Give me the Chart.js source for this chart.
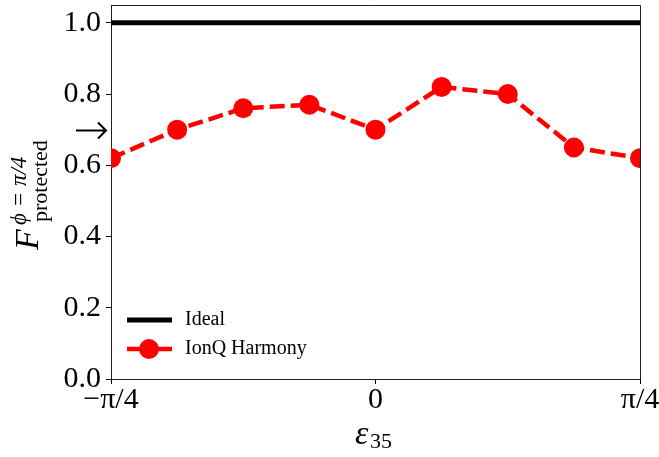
<!DOCTYPE html>
<html>
<head>
<meta charset="utf-8">
<script src="https://cdn.jsdelivr.net/npm/chart.js@4.4.0/dist/chart.umd.min.js"></script>
<style>
html, body { margin: 0; padding: 0; background: #fff; }
#wrap { width: 659px; height: 457px; }
</style>
</head>
<body>
<div id="wrap"><canvas id="chart" width="659" height="457"></canvas></div>
<script>
// epsilon_35 in steps of pi/16
const epsSteps = [-4, -3, -2, -1, 0, 1, 2, 3, 4];
const ionqFidelity = [0.62, 0.70, 0.76, 0.77, 0.70, 0.82, 0.80, 0.65, 0.62];
const idealSteps = [-4, 4];
const idealFidelity = [1.0, 1.0];
const xTickSteps = [-4, 0, 4];
const xTickLabels = ['−π/4', '0', 'π/4'];
const yTicks = [0.0, 0.2, 0.4, 0.6, 0.8, 1.0];
const arrowValue = 0.70;

const SERIF = "'Liberation Serif', 'Times New Roman', serif";

// 범례, 축 제목, 화살표, 위/오른쪽 테두리
const extras = {
    id: 'extras',
    afterDraw(chart) {
        const ctx = chart.ctx;
        const area = chart.chartArea;
        const y = chart.scales.y;

        ctx.save();
        // top + right spines
        ctx.strokeStyle = '#222';
        ctx.lineWidth = 1;
        ctx.beginPath();
        ctx.moveTo(area.left, area.top + 0.5);
        ctx.lineTo(area.right + 0.5, area.top + 0.5);
        ctx.lineTo(area.right + 0.5, area.bottom);
        ctx.stroke();

        // legend
        ctx.lineCap = 'butt';
        ctx.strokeStyle = '#000';
        ctx.lineWidth = 5;
        ctx.beginPath();
        ctx.moveTo(127, 320);
        ctx.lineTo(172, 320);
        ctx.stroke();
        ctx.strokeStyle = '#ff0000';
        ctx.lineWidth = 4.5;
        ctx.beginPath();
        ctx.moveTo(127, 349);
        ctx.lineTo(172, 349);
        ctx.stroke();
        ctx.fillStyle = '#ff0000';
        ctx.beginPath();
        ctx.arc(149, 349, 10, 0, Math.PI * 2);
        ctx.fill();

        ctx.fillStyle = '#000';
        ctx.font = '20px ' + SERIF;
        ctx.textBaseline = 'middle';
        ctx.textAlign = 'left';
        ctx.fillText('Ideal', 185, 320);
        ctx.fillText('IonQ Harmony', 185, 349);

        // arrow
        const ay = Math.round(y.getPixelForValue(arrowValue)) + 0.5;
        ctx.strokeStyle = '#000';
        ctx.lineWidth = 2;
        ctx.beginPath();
        ctx.moveTo(76, ay);
        ctx.lineTo(106, ay);
        ctx.moveTo(98, ay - 8);
        ctx.lineTo(106, ay);
        ctx.lineTo(98, ay + 8);
        ctx.stroke();

        // x title
        ctx.textAlign = 'left';
        ctx.textBaseline = 'alphabetic';
        ctx.font = 'italic 34px ' + SERIF;
        ctx.fillText('ε', 355, 444);
        ctx.font = '22px ' + SERIF;
        ctx.fillText('35', 370, 448);

        // y title (rotated)
        ctx.translate(38, 250);
        ctx.rotate(-Math.PI / 2);
        ctx.font = 'italic 34px ' + SERIF;
        ctx.fillText('F', 0, 0);
        ctx.font = 'italic 23px ' + SERIF;
        ctx.fillText('ϕ = π/4', 25, -12);
        ctx.font = '22px ' + SERIF;
        ctx.fillText('protected', 28, 9);
        ctx.restore();
    }
};

const ctx = document.getElementById('chart').getContext('2d');
const chart = new Chart(ctx, {
    type: 'line',
    data: {
        datasets: [{
            label: 'Ideal',
            data: idealSteps.map((x, i) => ({ x: x, y: idealFidelity[i] })),
            borderColor: '#000',
            borderWidth: 5,
            pointRadius: 0,
            clip: 0
        }, {
            label: 'IonQ Harmony',
            data: epsSteps.map((x, i) => ({ x: x, y: ionqFidelity[i] })),
            borderColor: '#ff0000',
            backgroundColor: '#ff0000',
            borderWidth: 4.5,
            borderDash: [15, 6],
            pointRadius: 10,
            pointBackgroundColor: '#ff0000',
            pointBorderWidth: 0,
            clip: 0
        }]
    },
    options: {
        responsive: false,
        animation: false,
        layout: { autoPadding: false, padding: { top: 5, right: 19, left: 0, bottom: 0 } },
        plugins: {
            legend: { display: false },
            tooltip: { enabled: false }
        },
        scales: {
            x: {
                type: 'linear',
                min: -4,
                max: 4,
                afterBuildTicks: axis => {
                    axis.ticks = xTickSteps.map(v => ({ value: v }));
                },
                afterFit: scale => {
                    scale.height = 78;
                    scale.paddingLeft = 0;
                    scale.paddingRight = 0;
                },
                ticks: {
                    callback: v => xTickLabels[xTickSteps.indexOf(v)],
                    font: { family: SERIF, size: 30 },
                    color: '#000',
                    padding: -2,
                    maxRotation: 0
                },
                grid: { drawOnChartArea: false, drawTicks: true, tickLength: 5, color: '#000' },
                border: { display: true, color: '#222', width: 1 }
            },
            y: {
                min: 0,
                max: 1.05,
                afterBuildTicks: axis => {
                    axis.ticks = yTicks.map(v => ({ value: v }));
                },
                afterFit: scale => {
                    scale.width = 111;
                    scale.paddingTop = 0;
                    scale.paddingBottom = 0;
                },
                ticks: {
                    callback: v => v.toFixed(1),
                    font: { family: SERIF, size: 30 },
                    color: '#000',
                    padding: 5
                },
                grid: { drawOnChartArea: false, drawTicks: true, tickLength: 5, color: '#000' },
                border: { display: true, color: '#222', width: 1 }
            }
        }
    },
    plugins: [extras]
});
</script>
</body>
</html>
